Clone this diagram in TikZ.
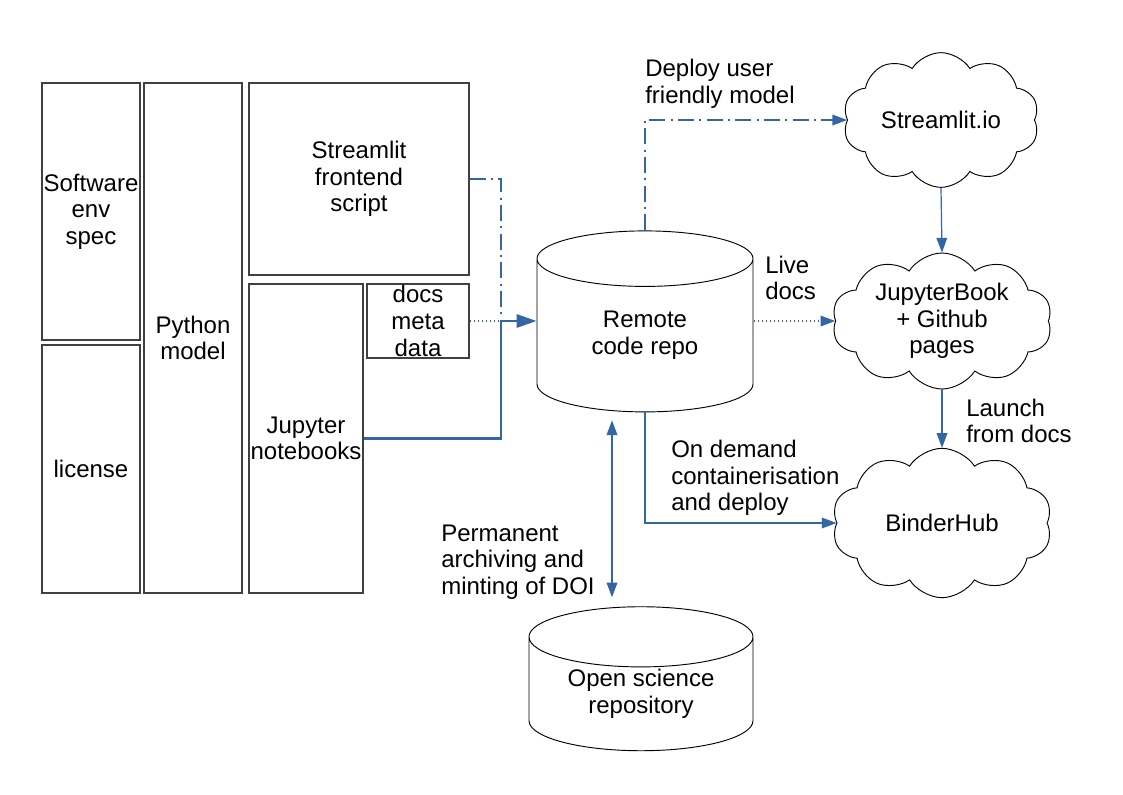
\documentclass[tikz,border=0pt]{standalone}
\usepackage{fontspec}
\setmainfont{Liberation Sans}
\usetikzlibrary{shapes.geometric,shapes.symbols,arrows.meta,positioning}
\definecolor{flowblue}{HTML}{3465A4}

\begin{document}
\begin{tikzpicture}[x=0.75pt, y=-0.75pt,
        every node/.style={font=\fontsize{18}{20}\selectfont, align=center},
        part/.style={draw=black!75, line width=0.8pt, inner sep=0pt},
        store/.style={draw, line width=0.7pt, cylinder, shape border rotate=90, inner sep=0pt},
        host/.style={draw, line width=0.7pt, cloud, cloud puffs=10, cloud puff arc=115, cloud ignores aspect, inner sep=0pt},
        flow/.style={flowblue, line width=0.9pt, -{Triangle[length=11pt, width=8pt]}},
        dashdot/.style={dash pattern=on 12pt off 4pt on 1.5pt off 4pt},
        dots/.style={dash pattern=on 1pt off 2pt},
        lbl/.style={anchor=west, inner sep=0pt, align=left}]

        \useasboundingbox (0,0) rectangle (1123,794);

        % repo contents
        \node[part, minimum width=73.5pt, minimum height=192.75pt] (env) at (91,211.5) {Software\\env\\spec};
        \node[part, minimum width=73.5pt, minimum height=186pt] (license) at (91,469) {license};
        \node[part, minimum width=73.5pt, minimum height=382.5pt] (model) at (193,338) {Python\\model};
        \node[part, minimum width=165pt, minimum height=144pt] (script) at (359,179) {Streamlit\\frontend\\script};
        \node[part, minimum width=85.5pt, minimum height=231.75pt] (notebooks) at (306,438.5) {Jupyter\\notebooks};
        \node[part, minimum width=76.5pt, minimum height=55.5pt] (docs) at (418,321) {docs\\meta\\data};

        % repositories
        \node[store, minimum width=162pt, minimum height=135.75pt, aspect=0.52] (repo) at (645,335.5) {Remote\\code repo};
        \node[store, minimum width=168pt, minimum height=108pt, aspect=0.41] (archive) at (641,694) {Open science\\repository};

        % hosting
        \node[host, minimum width=147pt, minimum height=101pt] (streamlit) at (941,120) {Streamlit.io};
        \node[host, minimum width=165pt, minimum height=102pt] (jbook) at (942,321) {JupyterBook\\+ Github\\pages};
        \node[host, minimum width=165pt, minimum height=112pt] (binder) at (942,523) {BinderHub};

        \coordinate (merge) at (501,321);

        % into the repo
        \draw[flowblue, line width=0.9pt, dashdot] (script.east) -| (merge);
        \draw[flowblue, line width=0.9pt, dots] (docs.east) -- (merge);
        \draw[flow, line width=1.6pt, -{Triangle[length=15pt, width=10pt]}] (notebooks.east) -| (merge) -- (merge -| repo.west);

        % out of the repo
        \draw[flow, dashdot] (repo.north) |- (streamlit.west);
        \draw[flow, dots] (repo.east |- jbook.west) -- (jbook.west);
        \draw[flow] (repo.south) |- (binder.west);
        \draw[flow] (streamlit.south) -- (jbook.north);
        \draw[flow] (jbook.south) -- (binder.north);
        \draw[flow, {Triangle[length=11pt, width=8pt]}-{Triangle[length=11pt, width=8pt]}]
            ([xshift=-24.75pt, yshift=-6pt]repo.south) -- ([xshift=-21.75pt, yshift=6.75pt]archive.north);

        %labels
        \node[lbl] (deploylbl) at (645,84) {Deploy user\\friendly model};
        \node[lbl] (livelbl) at (765,278) {Live\\docs};
        \node[lbl] (launchlbl) at (966,421) {Launch\\from docs};
        \node[lbl] (demandlbl) at (671,478) {On demand\\containerisation\\and deploy};
        \node[lbl] (doilbl) at (441,562) {Permanent\\archiving and\\minting of DOI};
    \end{tikzpicture}
\end{document}
